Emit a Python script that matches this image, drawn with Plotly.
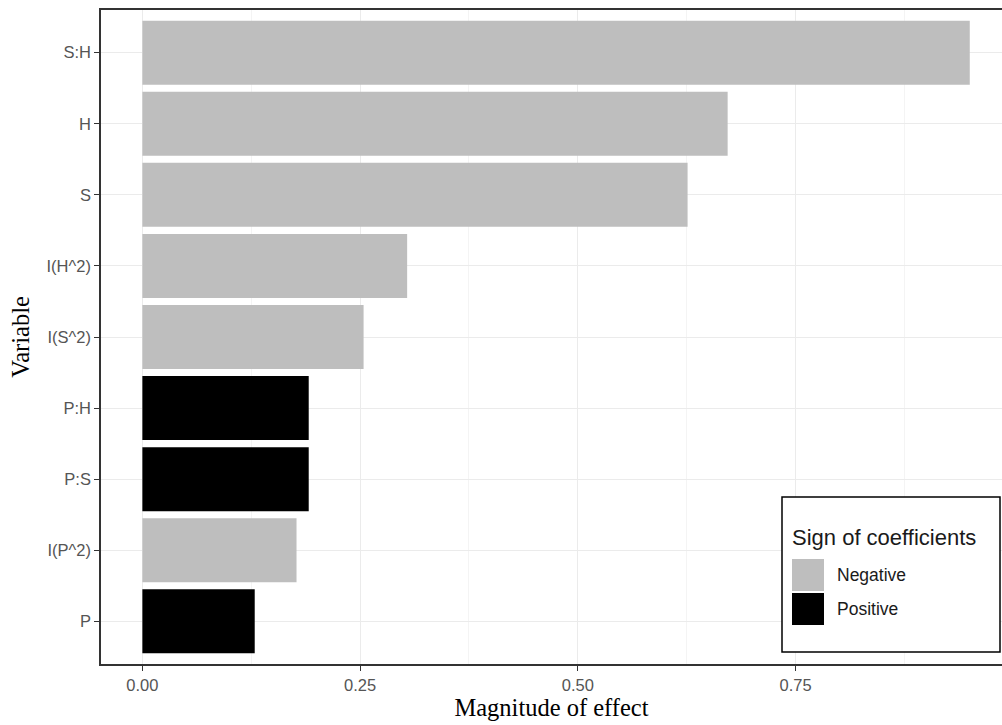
import plotly.graph_objects as go

# Model terms, listed from the largest to the smallest effect
variables = ["S:H", "H", "S", "I(H^2)", "I(S^2)", "P:H", "P:S", "I(P^2)", "P"]
magnitude = [0.950, 0.672, 0.626, 0.304, 0.254, 0.191, 0.191, 0.177, 0.129]
sign = ["Negative", "Negative", "Negative", "Negative", "Negative",
        "Positive", "Positive", "Negative", "Positive"]

sign_levels = ["Negative", "Positive"]
sign_colors = {"Negative": "#bebebe", "Positive": "#000000"}

x_ticks = [0.0, 0.25, 0.5, 0.75]
x_tick_text = ["0.00", "0.25", "0.50", "0.75"]
x_minor = [0.125, 0.375, 0.625, 0.875]

fig = go.Figure()
for lvl in sign_levels:
    ys = [v for v, s in zip(variables, sign) if s == lvl]
    xs = [m for m, s in zip(magnitude, sign) if s == lvl]
    fig.add_trace(go.Bar(
        x=xs, y=ys, orientation="h", name=lvl, width=0.9,
        marker=dict(color=sign_colors[lvl], line=dict(width=0)),
        showlegend=False,
    ))

tick_font = dict(family="Liberation Sans, Arial, sans-serif", size=16.5, color="#555555")
title_font = dict(family="Liberation Serif, Times New Roman, serif", size=24.5, color="#000000")

fig.update_layout(
    width=1002, height=725,
    margin=dict(l=101, r=0, t=10, b=61),
    plot_bgcolor="white", paper_bgcolor="white",
    barmode="overlay",
    bargap=0.1,
)

fig.update_xaxes(
    range=[-0.0475, 0.987],
    tickvals=x_ticks, ticktext=x_tick_text, tickfont=tick_font,
    ticks="outside", ticklen=5, tickcolor="#333333", tickwidth=1,
    showgrid=True, gridcolor="#ebebeb", gridwidth=1,
    minor=dict(tickvals=x_minor, showgrid=True, gridcolor="#f4f4f4", gridwidth=1, ticks=""),
    showline=True, linecolor="#333333", linewidth=1.5, mirror=True,
    zeroline=False,
    title=dict(text="Magnitude of effect", font=title_font, standoff=0),
)

fig.update_yaxes(
    type="category",
    categoryorder="array", categoryarray=list(reversed(variables)),
    range=[-0.6, len(variables) - 0.4],
    tickfont=tick_font,
    ticks="outside", ticklen=5, tickcolor="#333333", tickwidth=1,
    showgrid=True, gridcolor="#ebebeb", gridwidth=1,
    showline=True, linecolor="#333333", linewidth=1.5,
    zeroline=False,
    title=dict(text="Variable", font=title_font, standoff=10),
)

# Legend drawn as a boxed key in the lower right corner of the panel
def fx(p):
    return (p - 101) / 901.0

def fy(p):
    return (664 - p) / 654.0

legend_font = dict(family="Liberation Sans, Arial, sans-serif", color="#1a1a1a")

shapes = [
    dict(type="rect", xref="paper", yref="paper",
         x0=fx(782), x1=fx(1000), y0=fy(652), y1=fy(497),
         line=dict(color="#000000", width=1.5), fillcolor="white", layer="above"),
]
annotations = [
    dict(xref="paper", yref="paper", x=fx(790), y=fy(537),
         text="Sign of coefficients", showarrow=False, xanchor="left", yanchor="middle",
         font=dict(size=22, **legend_font)),
]
key_tops = [559, 593]
for lvl, top in zip(sign_levels, key_tops):
    shapes.append(dict(
        type="rect", xref="paper", yref="paper",
        x0=fx(792), x1=fx(824), y0=fy(top + 32), y1=fy(top),
        line=dict(width=0), fillcolor=sign_colors[lvl], layer="above"))
    annotations.append(dict(
        xref="paper", yref="paper", x=fx(835), y=fy(top + 16),
        text=lvl, showarrow=False, xanchor="left", yanchor="middle",
        font=dict(size=17.5, **legend_font)))

fig.update_layout(shapes=shapes, annotations=annotations)

fig.write_html("out.html")
